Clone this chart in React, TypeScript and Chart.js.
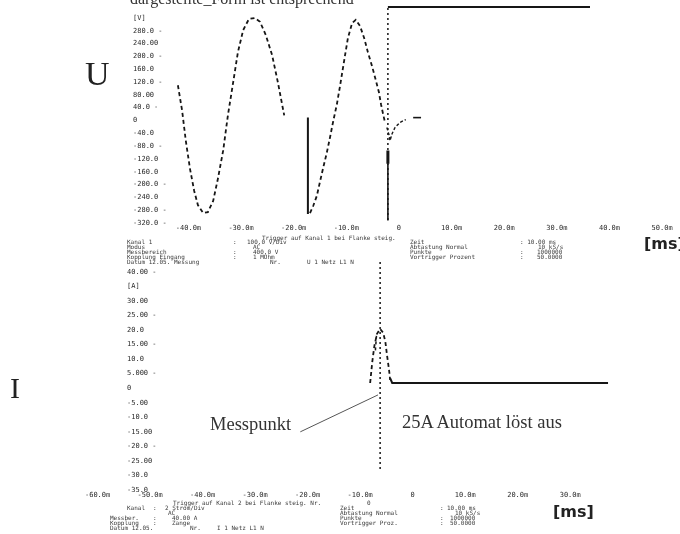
import React, { useEffect, useRef } from "react";
import { Chart, registerables } from "chart.js";

Chart.register(...registerables);

// ---------- Top chart (U, voltage) ----------
const uXTickValues = [-40, -30, -20, -10, 0, 10, 20, 30, 40, 50];
const uXTickLabels = ["-40.0m", "-30.0m", "-20.0m", "-10.0m", "0", "10.0m", "20.0m", "30.0m", "40.0m", "50.0m"];
const uYTickValues = [320, 280, 240, 200, 160, 120, 80, 40, 0, -40, -80, -120, -160, -200, -240, -280, -320];
const uYTickLabels = ["[V]", "280.0 -", "240.00", "200.0 -", "160.0", "120.0 -", "80.00", "40.0 -", "0", "-40.0", "-80.0 -", "-120.0", "-160.0", "-200.0 -", "-240.0", "-280.0 -", "-320.0 -"];

const uWave1T = [-42.0, -41.2, -40.5, -39.7, -38.9, -38.2, -37.2, -36.3, -35.3, -34.4, -33.4, -32.5, -31.5, -30.6, -29.6, -28.5, -27.4, -26.4, -25.3, -24.1, -23.0, -21.8];
const uWave1V = [110, 31, -63, -151, -220, -264, -289, -286, -251, -182, -94, 16, 119, 213, 282, 317, 320, 308, 267, 204, 119, 16];

const uJump1T = [-17.3, -17.3];
const uJump1V = [9, -292];

const uWave2T = [-16.9, -16.3, -15.6, -15.0, -14.4, -13.7, -13.1, -12.5, -11.8, -11.2, -10.4, -9.7, -8.9, -8.2, -7.4, -6.6, -5.9, -5.1, -4.4, -3.8, -3.4, -3.0, -2.65];
const uWave2V = [-289, -267, -235, -191, -148, -100, -53, -3, 50, 107, 188, 257, 304, 314, 295, 257, 213, 169, 126, 88, 50, 19, -6];

const uCurlT = [-2.3, -1.9, -1.7, -1.3, -0.75, 0.2, 1.3];
const uCurlV = [-22, -44, -63, -41, -22, -6, 3];

const uDashT = [2.7, 4.2];
const uDashV = [9, 9];

const uTripT = [-2.1, -2.1];
const uTripV = [-94, -135];
const uTripLowV = [-135, -312];

const uTopT = [-2.1, 36.3];
const uTopV = [354, 354];

const uCursorT = [-2.1, -2.1];
const uCursorV = [351, -320];

// ---------- Bottom chart (I, current) ----------
const iXTickValues = [-60, -50, -40, -30, -20, -10, 0, 10, 20, 30];
const iXTickLabels = ["-60.0m", "-50.0m", "-40.0m", "-30.0m", "-20.0m", "-10.0m", "0", "10.0m", "20.0m", "30.0m"];
const iYTickValues = [40, 35, 30, 25, 20, 15, 10, 5, 0, -5, -10, -15, -20, -25, -30, -35];
const iYTickLabels = ["40.00 -", "[A]", "30.00", "25.00 -", "20.0", "15.00 -", "10.0", "5.000 -", "0", "-5.00", "-10.0", "-15.00", "-20.0 -", "-25.00", "-30.0", "-35.0"];

const iSpikeT = [-8.1, -7.7, -7.3, -6.8, -6.2, -5.6, -5.2, -4.9, -4.5, -4.3];
const iSpikeA = [1.8, 9.0, 14.5, 18.7, 20.4, 19.0, 15.9, 11.5, 6.3, 2.9];

const iInnerT = [-7.1, -6.9];
const iInnerA = [13, 18];

const iSettleT = [-4.3, -3.9, 37.2];
const iSettleA = [3.5, 1.8, 1.8];

const iCursorT = [-6.2, -6.2];
const iCursorA = [43.4, -28];

const iPointerT = [-21.4, -6.6];
const iPointerA = [-15.0, -2.3];

const INK = "#161616";

function series(xs: number[], ys: number[], extra: any = {}) {
  return {
    data: xs.map((x, i) => ({ x, y: ys[i] })),
    borderColor: INK,
    borderWidth: 1.8,
    pointRadius: 0,
    fill: false,
    tension: 0,
    ...extra,
  };
}

const tickFont = { family: "'DejaVu Sans Mono', monospace", size: 7 };

function makeOptions(cfg: {
  xMin: number; xMax: number; yMin: number; yMax: number;
  xVals: number[]; xLabels: string[]; yVals: number[]; yLabels: string[];
  padLeft: number; yWidth: number; mirror: boolean; yPad: number;
}) {
  return {
    responsive: false,
    animation: false,
    devicePixelRatio: 1,
    layout: { padding: { left: cfg.padLeft, top: 7, right: 10, bottom: 0 } },
    plugins: { legend: { display: false }, tooltip: { enabled: false } },
    scales: {
      x: {
        type: "linear",
        min: cfg.xMin,
        max: cfg.xMax,
        grid: { display: false, drawTicks: false },
        border: { display: false },
        afterBuildTicks: (s: any) => { s.ticks = cfg.xVals.map((v) => ({ value: v })); },
        afterFit: (s: any) => { s.height = 14; s.paddingLeft = 0; s.paddingRight = 0; },
        ticks: {
          autoSkip: false, maxRotation: 0, minRotation: 0, padding: 1,
          font: tickFont, color: "#2a2a2a",
          callback: (_v: any, i: number) => cfg.xLabels[i],
        },
      },
      y: {
        type: "linear",
        position: "left",
        min: cfg.yMin,
        max: cfg.yMax,
        grid: { display: false, drawTicks: false },
        border: { display: false },
        afterBuildTicks: (s: any) => { s.ticks = cfg.yVals.map((v) => ({ value: v })); },
        afterFit: (s: any) => { s.width = cfg.yWidth; s.paddingTop = 0; s.paddingBottom = 0; },
        ticks: {
          autoSkip: false, mirror: cfg.mirror, crossAlign: cfg.mirror ? "near" : "far", padding: cfg.yPad,
          font: tickFont, color: "#2a2a2a",
          callback: (_v: any, i: number) => cfg.yLabels[i],
        },
      },
    },
  };
}

const abs = (left: number, top: number, extra: React.CSSProperties = {}): React.CSSProperties => ({
  position: "absolute", left, top, whiteSpace: "pre", margin: 0, ...extra,
});

const tiny: React.CSSProperties = {
  fontFamily: "'DejaVu Sans Mono', monospace", fontSize: 6, lineHeight: "6px", color: "#3a3a3a",
};

const topInfo: [number, number, string][] = [
  [262, 235, "Trigger auf Kanal 1 bei Flanke steig."],
  [127, 239, "Kanal 1"], [233, 239, ":"], [247, 239, "100.0 V/Div"], [410, 239, "Zeit"], [520, 239, ": 10.00 ms"],
  [127, 244, "Modus"], [253, 244, "AC"], [410, 244, "Abtastung Normal"], [538, 244, "10 kS/s"],
  [127, 249, "Messbereich"], [233, 249, ":"], [253, 249, "400.0 V"], [410, 249, "Punkte"], [520, 249, ":"], [537, 249, "1000000"],
  [127, 254, "Kopplung Eingang"], [233, 254, ":"], [253, 254, "1 MOhm"], [410, 254, "Vortrigger Prozent"], [520, 254, ":"], [537, 254, "50.0000"],
  [127, 259, "Datum 12.05. Messung"], [270, 259, "Nr."], [307, 259, "U 1 Netz L1 N"],
];

const bottomInfo: [number, number, string][] = [
  [173, 500, "Trigger auf Kanal 2 bei Flanke steig. Nr."], [367, 500, "0"],
  [127, 505, "Kanal"], [153, 505, ":"], [165, 505, "2 Strom/Div"], [340, 505, "Zeit"], [440, 505, ":"], [447, 505, "10.00 ms"],
  [168, 510, "AC"], [340, 510, "Abtastung Normal"], [455, 510, "10 kS/s"],
  [110, 515, "Messber."], [153, 515, ":"], [172, 515, "40.00 A"], [340, 515, "Punkte"], [440, 515, ":"], [450, 515, "1000000"],
  [110, 520, "Kopplung"], [153, 520, ":"], [172, 520, "Zange"], [340, 520, "Vortrigger Proz."], [440, 520, ":"], [450, 520, "50.0000"],
  [110, 525, "Datum 12.05."], [190, 525, "Nr."], [217, 525, "I 1 Netz L1 N"],
];

export default function App() {
  const topRef = useRef<HTMLCanvasElement | null>(null);
  const botRef = useRef<HTMLCanvasElement | null>(null);

  useEffect(() => {
    const dashed = { borderDash: [4, 3] };
    const top = new Chart(topRef.current as HTMLCanvasElement, {
      type: "line",
      data: {
        datasets: [
          series(uCursorT, uCursorV, { borderWidth: 1.5, borderDash: [2, 3], clip: false }),
          series(uWave1T, uWave1V, dashed),
          series(uJump1T, uJump1V, { borderWidth: 2 }),
          series(uWave2T, uWave2V, dashed),
          series(uCurlT, uCurlV, { borderDash: [3, 2], borderWidth: 1.4 }),
          series(uDashT, uDashV, { borderWidth: 1.6 }),
          series(uTripT, uTripV, { borderWidth: 3 }),
          series(uTripT, uTripLowV, { borderWidth: 1.6 }),
          series(uTopT, uTopV, { borderWidth: 2, clip: false }),
        ] as any,
      },
      options: makeOptions({
        xMin: -43.5, xMax: 51.5, yMin: -320, yMax: 354.3,
        xVals: uXTickValues, xLabels: uXTickLabels, yVals: uYTickValues, yLabels: uYTickLabels,
        padLeft: 133, yWidth: 37, mirror: false, yPad: 0,
      }) as any,
    });

    const bot = new Chart(botRef.current as HTMLCanvasElement, {
      type: "line",
      data: {
        datasets: [
          series(iCursorT, iCursorA, { borderWidth: 1.5, borderDash: [2, 3] }),
          series(iPointerT, iPointerA, { borderWidth: 1, borderColor: "#555" }),
          series(iSpikeT, iSpikeA, dashed),
          series(iInnerT, iInnerA, { borderWidth: 1.5, borderDash: [3, 3] }),
          series(iSettleT, iSettleA, { borderWidth: 2 }),
        ] as any,
      },
      options: makeOptions({
        xMin: -62.4, xMax: 49.0, yMin: -35, yMax: 43.4,
        xVals: iXTickValues, xLabels: iXTickLabels, yVals: iYTickValues, yLabels: iYTickLabels,
        padLeft: 85, yWidth: 0, mirror: true, yPad: 42,
      }) as any,
    });

    return () => { top.destroy(); bot.destroy(); };
  }, []);

  const serif = "'Liberation Serif', 'Times New Roman', serif";

  return (
    <div style={{ position: "absolute", left: 0, top: 0, width: 680, height: 534, background: "#fff", overflow: "hidden" }}>
      <canvas ref={topRef} width={680} height={237} style={{ position: "absolute", left: 0, top: 0, width: 680, height: 237 }} />
      <canvas ref={botRef} width={680} height={249} style={{ position: "absolute", left: 0, top: 255, width: 680, height: 249 }} />

      <div style={abs(130, -10, { fontFamily: serif, fontSize: 16, lineHeight: "18px", color: "#333" })}>dargestellte_Form ist entsprechend</div>
      <div style={abs(85, 57, { fontFamily: serif, fontSize: 34, lineHeight: "34px", color: "#222" })}>U</div>
      <div style={abs(10, 373, { fontFamily: serif, fontSize: 30, lineHeight: "30px", color: "#222" })}>I</div>
      <div style={abs(210, 415, { fontFamily: serif, fontSize: 18.5, lineHeight: "18.5px", color: "#333" })}>Messpunkt</div>
      <div style={abs(402, 413, { fontFamily: serif, fontSize: 18.5, lineHeight: "18.5px", color: "#333" })}>25A Automat löst aus</div>
      <div style={abs(644, 236, { fontFamily: "'DejaVu Sans', sans-serif", fontWeight: "bold", fontSize: 16, lineHeight: "16px", color: "#222" })}>[ms]</div>
      <div style={abs(553, 504, { fontFamily: "'DejaVu Sans', sans-serif", fontWeight: "bold", fontSize: 16, lineHeight: "16px", color: "#222" })}>[ms]</div>

      {topInfo.map(([x, y, t], i) => (
        <div key={"t" + i} style={abs(x, y, tiny)}>{t}</div>
      ))}
      {bottomInfo.map(([x, y, t], i) => (
        <div key={"b" + i} style={abs(x, y, tiny)}>{t}</div>
      ))}
    </div>
  );
}
